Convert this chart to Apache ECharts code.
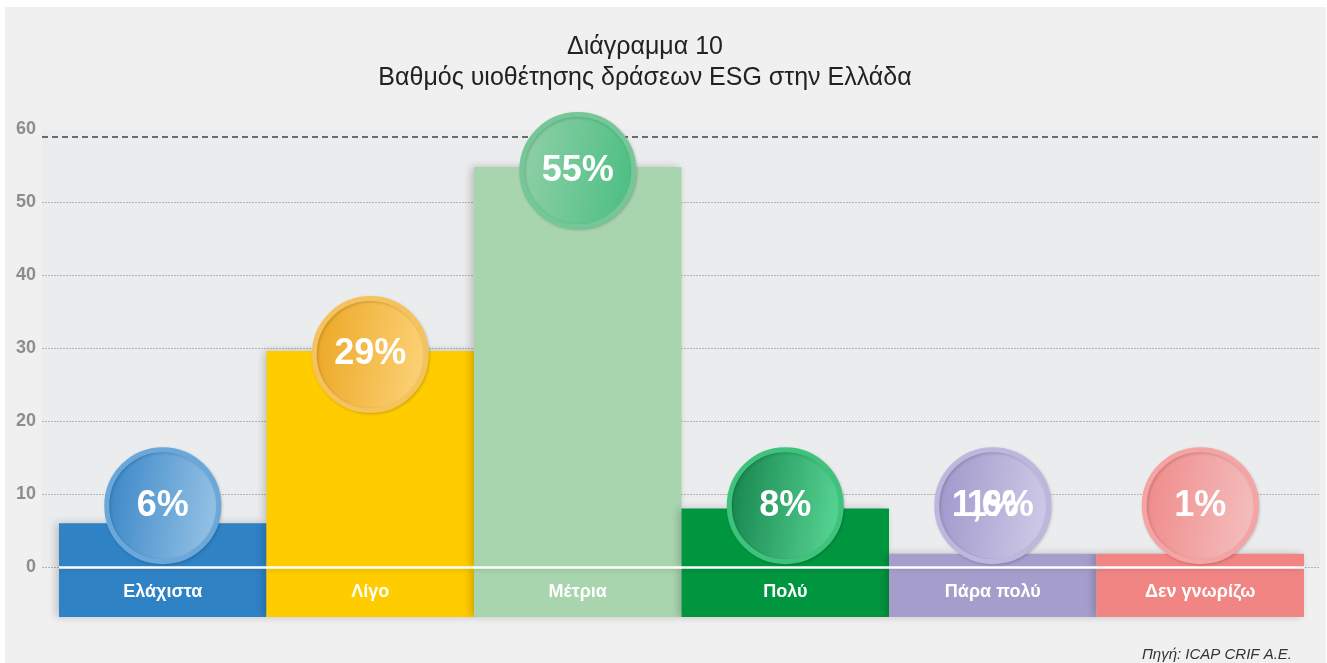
<!DOCTYPE html>
<html>
<head>
<meta charset="utf-8">
<script src="https://cdn.jsdelivr.net/npm/echarts@6/dist/echarts.min.js"></script>
<style>
html,body{margin:0;padding:0;background:#ffffff;}
#chart{width:1327px;height:663px;}
</style>
</head>
<body>
<div id="chart"></div>
<script>
// ---- data ----
const categories = ['Ελάχιστα', 'Λίγο', 'Μέτρια', 'Πολύ', 'Πάρα πολύ', 'Δεν γνωρίζω'];
const values = [6, 29.6, 54.8, 8, 1.8, 1.8];
const bubbleLabels = ['6%', '29%', '55%', '8%', '1,6%', '1%'];
const overlapLabels = ['', '', '', '', '1%', ''];
const barDepth = -6.85;          // bars continue below zero to hold the category names
const refLine = 58.9;            // dashed reference line
const yMin = 0, yMax = 60, yStep = 10;

// ---- styles ----
const barColors = ['#2f82c4', '#ffcc00', '#a8d4ae', '#009640', '#a59dcc', '#f08584'];
const bubbleFill = [
  ['#3583c6', '#92c0e4'],
  ['#eba520', '#fbd074'],
  ['#93d1a9', '#50bf86'],
  ['#12804a', '#55d291'],
  ['#9d94c9', '#cdc8e6'],
  ['#ef8787', '#f4bcbc']
];
const bubbleRing = ['#6aa8dc', '#f6c25c', '#74c796', '#3fc27c', '#bdb7de', '#f5a3a3'];
const bubbleMin = 8.4;
const FONT = 'Liberation Sans, Arial, sans-serif';

const chart = echarts.init(document.getElementById('chart'));

const bubbleY = v => Math.max(v - 0.5, bubbleMin);

const option = {
  backgroundColor: '#ffffff',
  animation: false,
  graphic: [{
    type: 'rect', z: -10, silent: true,
    shape: { x: 5, y: 7, width: 1321, height: 656 },
    style: { fill: '#f0f0f0' }
  }],
  title: [{
    text: 'Διάγραμμα 10\nΒαθμός υιοθέτησης δράσεων ESG στην Ελλάδα',
    left: 640, top: 27, textAlign: 'center',
    textStyle: { fontFamily: FONT, fontSize: 25, fontWeight: 'normal', color: '#222222', lineHeight: 31 }
  }, {
    text: 'Πηγή: ICAP CRIF A.E.',
    right: 30, top: 642,
    textStyle: { fontFamily: FONT, fontSize: 15, fontWeight: 'normal', fontStyle: 'italic', color: '#333333' }
  }],
  grid: [
    { left: 42, right: 7, top: 129, bottom: 663 - 567, show: true, backgroundColor: '#ebeced', borderWidth: 0 },
    { left: 59, right: 23, top: 129, bottom: 46 }
  ],
  xAxis: [
    { type: 'category', gridIndex: 0, data: categories, show: false },
    { type: 'category', gridIndex: 1, data: categories, show: false, boundaryGap: true }
  ],
  yAxis: [
    {
      type: 'value', gridIndex: 0, min: yMin, max: yMax, interval: yStep,
      axisLine: { show: false }, axisTick: { show: false },
      axisLabel: { margin: 6, color: '#8d8d8d', fontSize: 18, fontWeight: 'bold', fontFamily: FONT },
      splitLine: { show: true, lineStyle: { color: ['#b3b3b3', '#b3b3b3', '#b3b3b3', '#b3b3b3', '#b3b3b3', '#b3b3b3', 'rgba(0,0,0,0)'], type: [2, 1], width: 1 } }
    },
    { type: 'value', gridIndex: 1, min: barDepth, max: yMax, show: false, splitLine: { show: false } }
  ],
  series: [
    {
      type: 'line', xAxisIndex: 0, yAxisIndex: 0, data: [], silent: true,
      markLine: {
        silent: true, symbol: 'none', label: { show: false },
        lineStyle: { color: '#6a6a6a', width: 2, type: [6, 4] },
        data: [{ yAxis: refLine }]
      }
    },
    {
      type: 'bar', name: 'base', xAxisIndex: 1, yAxisIndex: 1, stack: 'b',
      barCategoryGap: '0%', silent: true,
      data: categories.map(() => barDepth),
      itemStyle: {
        color: p => barColors[p.dataIndex],
        shadowColor: 'rgba(0,0,0,0.2)', shadowBlur: 8, shadowOffsetX: -3
      },
      label: {
        show: true, position: 'inside',
        formatter: p => categories[p.dataIndex],
        color: '#ffffff', fontSize: 18, fontWeight: 'bold', fontFamily: FONT
      }
    },
    {
      type: 'bar', name: 'value', xAxisIndex: 1, yAxisIndex: 1, stack: 'b',
      barCategoryGap: '0%', silent: true,
      data: values,
      itemStyle: {
        color: p => barColors[p.dataIndex],
        shadowColor: 'rgba(0,0,0,0.2)', shadowBlur: 8, shadowOffsetX: -3
      },
      markLine: {
        silent: true, symbol: 'none', label: { show: false }, z: 5,
        lineStyle: { color: '#ffffff', width: 2.5, type: 'solid' },
        data: [{ yAxis: 0 }]
      }
    },
    {
      type: 'scatter', xAxisIndex: 1, yAxisIndex: 1, z: 10, silent: true,
      symbolSize: 112,
      data: values.map((v, i) => ({
        value: [i, bubbleY(v)],
        itemStyle: {
          opacity: 1,
          color: { type: 'linear', x: 0, y: 0, x2: 1, y2: 0.15, colorStops: [{ offset: 0, color: bubbleFill[i][0] }, { offset: 1, color: bubbleFill[i][1] }] },
          borderColor: bubbleRing[i], borderWidth: 5,
          shadowColor: 'rgba(0,0,0,0.18)', shadowBlur: 3, shadowOffsetX: 1, shadowOffsetY: 1
        }
      })),
      label: {
        show: true, position: 'inside',
        formatter: p => bubbleLabels[p.dataIndex],
        color: '#ffffff', fontSize: 36, fontWeight: 'bold', fontFamily: FONT
      }
    },
    {
      type: 'scatter', xAxisIndex: 1, yAxisIndex: 1, z: 11, silent: true,
      symbolSize: 1, itemStyle: { color: 'rgba(0,0,0,0)', opacity: 1 },
      data: values.map((v, i) => overlapLabels[i] ? [i, bubbleY(v)] : null).filter(d => d),
      label: {
        show: true, position: 'inside',
        formatter: p => overlapLabels[p.value[0]],
        color: '#ffffff', fontSize: 36, fontWeight: 'bold', fontFamily: FONT
      }
    }
  ]
};
chart.setOption(option);
</script>
</body>
</html>
